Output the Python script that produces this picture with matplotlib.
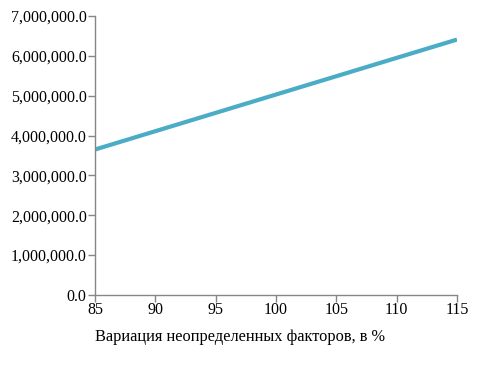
import matplotlib
matplotlib.use("Agg")
import matplotlib.pyplot as plt
from matplotlib.ticker import FuncFormatter

plt.rcParams['font.family'] = ['Liberation Serif', 'DejaVu Serif']

variation = [85, 90, 95, 100, 105, 110, 115]
values = [3650000, 4110000, 4570000, 5030000, 5490000, 5950000, 6410000]

fig = plt.figure(figsize=(4.8, 3.65), dpi=100)
ax = fig.add_axes([0.198, 0.192, 0.754, 0.764])

ax.plot(variation, values, color='#4bacc6', lw=3.0, solid_capstyle='butt')

ax.set_xlim(85, 115)
ax.set_ylim(0, 7000000)
ax.set_xticks(range(85, 116, 5))
ax.set_yticks(range(0, 7000001, 1000000))
ax.yaxis.set_major_formatter(FuncFormatter(lambda v, p: f"{v:,.1f}"))

for s in ['top', 'right']:
    ax.spines[s].set_visible(False)
for s in ['left', 'bottom']:
    ax.spines[s].set_color('#868686')
    ax.spines[s].set_linewidth(1.0)
ax.tick_params(colors='#868686', labelcolor='black', labelsize=11.5,
               length=5, width=1.0, pad=1)
ax.tick_params(axis='x', pad=0)

fig.text(0.5, 0.078, "Вариация неопределенных факторов, в %",
         ha='center', va='center', fontsize=11.8)

fig.savefig("out.png", dpi=100)
